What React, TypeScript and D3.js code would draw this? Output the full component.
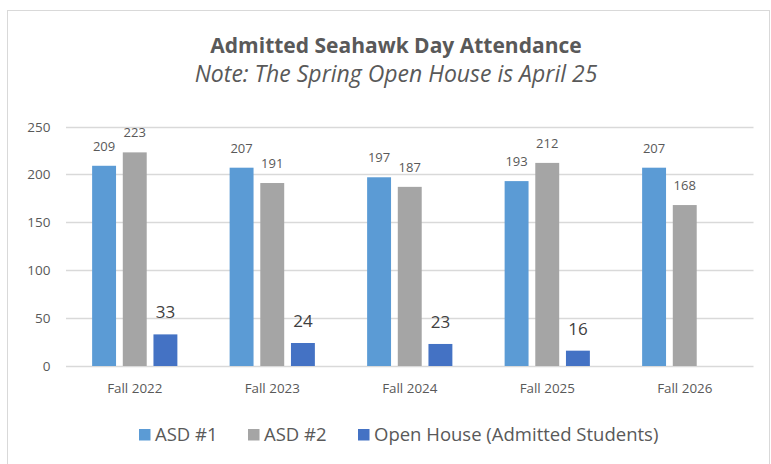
import React, { useEffect, useRef } from "react";
import * as d3 from "d3";

const categories = ["Fall 2022", "Fall 2023", "Fall 2024", "Fall 2025", "Fall 2026"];
const asd1 = [209, 207, 197, 193, 207];
const asd2 = [223, 191, 187, 212, 168];
const openHouse: (number | null)[] = [33, 24, 23, 16, null];
const yTicks = [0, 50, 100, 150, 200, 250];

const seriesNames = ["ASD #1", "ASD #2", "Open House (Admitted Students)"];
const colors = ["#5B9BD5", "#A5A5A5", "#4472C4"];

const App = () => {
  const svgRef = useRef<SVGSVGElement>(null);

  useEffect(() => {
    const width = 771;
    const height = 464;
    const font = "'Open Sans', Lato, sans-serif";
    const textColor = "#595959";

    const svg = d3.select(svgRef.current);
    svg.selectAll("*").remove();
    svg.attr("width", width).attr("height", height);

    // chart area border
    svg.append("rect")
      .attr("x", 7.5).attr("y", 10.5)
      .attr("width", 762).attr("height", 470)
      .attr("fill", "white")
      .attr("stroke", "#D9D9D9");

    svg.append("text")
      .attr("x", 396).attr("y", 53)
      .attr("text-anchor", "middle")
      .attr("font-family", font).attr("font-weight", "bold")
      .attr("font-size", 21).attr("fill", textColor)
      .text("Admitted Seahawk Day Attendance");

    svg.append("text")
      .attr("x", 396).attr("y", 82)
      .attr("text-anchor", "middle")
      .attr("font-family", font).attr("font-style", "italic")
      .attr("font-size", 23).attr("fill", textColor)
      .text("Note: The Spring Open House is April 25");

    const left = 66, right = 753.5, top = 126.5, bottom = 366;

    const y = d3.scaleLinear().domain([0, 250]).range([bottom, top]);
    const x0 = d3.scaleBand<string>().domain(categories).range([left, right])
      .paddingInner(0.38).paddingOuter(0.19);
    const x1 = d3.scaleBand<number>().domain([0, 1, 2]).range([0, x0.bandwidth()])
      .paddingInner(0.22);

    const g = svg.append("g");

    g.selectAll("line.grid")
      .data(yTicks)
      .enter().append("line")
      .attr("x1", left).attr("x2", right)
      .attr("y1", (d) => Math.round(y(d)) + 0.5)
      .attr("y2", (d) => Math.round(y(d)) + 0.5)
      .attr("stroke", "#D9D9D9").attr("stroke-width", 1.3);

    g.selectAll("text.ytick")
      .data(yTicks)
      .enter().append("text")
      .attr("x", 50.5).attr("y", (d) => y(d) + 5)
      .attr("text-anchor", "end")
      .attr("font-family", font).attr("font-size", 13.5).attr("fill", textColor)
      .text((d) => d);

    g.selectAll("text.xtick")
      .data(categories)
      .enter().append("text")
      .attr("x", (d) => (x0(d) as number) + x0.bandwidth() / 2)
      .attr("y", 393)
      .attr("text-anchor", "middle")
      .attr("font-family", font).attr("font-size", 13.4).attr("fill", textColor)
      .text((d) => d);

    const series = [asd1, asd2, openHouse];
    series.forEach((vals, si) => {
      const pts = categories
        .map((c, i) => ({ c, v: vals[i] }))
        .filter((p) => p.v !== null) as { c: string; v: number }[];

      g.selectAll(`rect.s${si}`)
        .data(pts)
        .enter().append("rect")
        .attr("x", (d) => (x0(d.c) as number) + (x1(si) as number))
        .attr("y", (d) => y(d.v))
        .attr("width", x1.bandwidth())
        .attr("height", (d) => bottom - y(d.v))
        .attr("fill", colors[si]);

      const big = si === 2;
      g.selectAll(`text.l${si}`)
        .data(pts)
        .enter().append("text")
        .attr("x", (d) => (x0(d.c) as number) + (x1(si) as number) + x1.bandwidth() / 2)
        .attr("y", (d) => y(d.v) - (big ? 16 : 15))
        .attr("text-anchor", "middle")
        .attr("font-family", font).attr("font-size", big ? 17 : 13)
        .attr("fill", big ? "#404040" : textColor)
        .text((d) => d.v);
    });

    // legend
    const legendX = [139, 248, 358];
    const legend = svg.append("g");
    seriesNames.forEach((name, i) => {
      legend.append("rect")
        .attr("x", legendX[i]).attr("y", 429)
        .attr("width", 11.5).attr("height", 11.5)
        .attr("fill", colors[i]);
      legend.append("text")
        .attr("x", legendX[i] + 16).attr("y", 441)
        .attr("font-family", font).attr("font-size", 18.5).attr("fill", textColor)
        .text(name);
    });
  }, []);

  return <svg ref={svgRef} style={{ position: "absolute", left: 0, top: 0 }}></svg>;
};

export default App;
